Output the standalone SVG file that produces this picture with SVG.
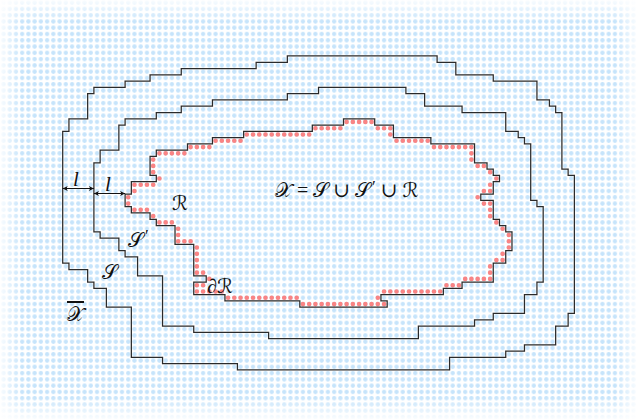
<svg xmlns="http://www.w3.org/2000/svg" width="637" height="419" viewBox="0 0 637 419">
<style>
.c{fill:none;stroke:#2a2a2a;stroke-width:1.25;stroke-linejoin:miter;vector-effect:non-scaling-stroke}
.m{font-family:"Liberation Serif","DejaVu Serif","DejaVu Sans",serif;font-style:italic;font-size:21px;fill:#111}
.s{font-family:"Liberation Serif","DejaVu Serif","DejaVu Sans",serif;font-style:normal;font-size:20px;fill:#111}
.p{font-family:"Liberation Serif","DejaVu Sans",serif;font-style:normal;font-size:17px}
.dim{stroke:#111;stroke-width:1;marker-start:url(#ah);marker-end:url(#ah)}
</style>
<defs>
<pattern id="dots" patternUnits="userSpaceOnUse" width="1" height="1">
<circle cx="0.5" cy="0.5" r="0.35" fill="#c6e4fb"/>
</pattern>
<linearGradient id="fl" x1="0" y1="0" x2="1" y2="0"><stop offset="0" stop-color="#fff" stop-opacity="0.9"/><stop offset="1" stop-color="#fff" stop-opacity="0"/></linearGradient>
<linearGradient id="fr" x1="1" y1="0" x2="0" y2="0"><stop offset="0" stop-color="#fff" stop-opacity="0.9"/><stop offset="1" stop-color="#fff" stop-opacity="0"/></linearGradient>
<linearGradient id="ft" x1="0" y1="0" x2="0" y2="1"><stop offset="0" stop-color="#fff" stop-opacity="0.9"/><stop offset="1" stop-color="#fff" stop-opacity="0"/></linearGradient>
<linearGradient id="fb" x1="0" y1="1" x2="0" y2="0"><stop offset="0" stop-color="#fff" stop-opacity="0.9"/><stop offset="1" stop-color="#fff" stop-opacity="0"/></linearGradient>
<marker id="ah" viewBox="0 0 10 10" refX="10" refY="5" markerWidth="6" markerHeight="5" markerUnits="userSpaceOnUse" orient="auto-start-reverse">
<path d="M0,0 L10,5 L0,10 L2.5,5 z" fill="#111"/>
</marker>
</defs>
<rect width="637" height="419" fill="#fff"/>
<g transform="translate(0.3,-0.52) scale(6.24,6.28)">
<rect id="grid" x="-1" y="0" width="104" height="69" fill="url(#dots)"/>
<g id="connectors">
<path id="contour-X" class="c" d="M10 21H11V19H14V15H15V14H20V13H24V12H29V11H41V10H46V9H70V10H73V12H79V13H86V16H88V17H89V18H90V27H91V28H92V50H91V52H89V55H84V56H81V57H72V59H38V58H26V57H21V49H17V46H15V45H14V43H11V42H10Z"/>
<path id="contour-S" class="c" d="M15 26H16V24H19V20H20V19H25V18H29V17H34V16H46V15H51V14H65V15H68V17H74V18H81V21H83V22H84V23H85V32H86V33H87V45H86V47H84V50H79V51H76V52H67V54H43V53H31V52H26V44H22V41H20V40H19V38H16V37H15Z"/>
<path id="red-dots" fill="none" stroke="#f98484" stroke-width="0.74" stroke-linecap="round" stroke-dasharray="0 1" d="M55.5 19.5H59.51M50.5 20.5H54.51M60.5 20.5H62.51M39.5 21.5H49.51M62.5 21.5h.01M34.5 22.5H38.51M63.5 22.5H68.51M30.5 23.5H33.51M69.5 23.5H75.51M25.5 24.5H29.51M75.5 24.5h.01M24.5 25.5h.01M75.5 25.5h.01M24.5 26.5h.01M76.5 26.5H77.51M24.5 27.5h.01M78.5 27.5h.01M25.5 28.5h.01M79.5 28.5h.01M21.5 29.5H24.51M78.5 29.5h.01M21.5 30.5h.01M77.5 30.5H78.51M20.5 31.5h.01M76.5 31.5h.01M20.5 32.5h.01M77.5 32.5H78.51M21.5 33.5H23.51M78.5 33.5h.01M24.5 34.5h.01M78.5 34.5h.01M25.5 35.5H27.51M79.5 35.5h.01M28.5 36.5h.01M80.5 36.5h.01M28.5 37.5h.01M81.5 37.5h.01M28.5 38.5H30.51M81.5 38.5h.01M31.5 39.5h.01M81.5 39.5h.01M31.5 40.5h.01M80.5 40.5h.01M31.5 41.5h.01M79.5 41.5H80.51M31.5 42.5h.01M78.5 42.5h.01M31.5 43.5H32.51M78.5 43.5h.01M33.5 44.5h.01M74.5 44.5H78.51M31.5 45.5H32.51M71.5 45.5H73.51M31.5 46.5H35.51M61.5 46.5H70.51M36.5 47.5H47.51M60.5 47.5h.01M48.5 48.5H61.51"/>
<path id="boundary-R" class="c" d="M20 33V31H21V29H25V28H24V25H25V24H30V23H34V22H39V21H50V20H55V19H60V20H63V22H69V23H76V26H78V27H79V28H80V29H79V31H77V32H79V35H80V36H81V37H82V40H81V42H79V45H74V46H71V47H61V48H62V49H48V48H36V47H31V45H33V44H31V39H28V36H25V35H24V34H21V33Z"/>
</g>
</g>
<g id="edge-fade">
<rect x="0" y="0" width="22" height="419" fill="url(#fl)"/>
<rect x="615" y="0" width="22" height="419" fill="url(#fr)"/>
<rect x="0" y="0" width="637" height="22" fill="url(#ft)"/>
<rect x="0" y="397" width="637" height="22" fill="url(#fb)"/>
</g>
<g id="dimensions">
<line class="dim" x1="62.7" y1="188.5" x2="93.9" y2="188.5"/>
<line class="dim" x1="93.9" y1="193.5" x2="125.1" y2="193.5"/>
<text class="m" x="73" y="186">l</text>
<text class="m" x="105" y="191">l</text>
</g>
<g id="labels">
<text id="label-X" class="s" x="275" y="197">𝒳 = 𝒮 ∪ 𝒮<tspan class="p" dx="2" dy="-5">′</tspan><tspan dy="5"> ∪ ℛ</tspan></text>
<text id="label-R" class="s" x="172" y="210">ℛ</text>
<text id="label-S1" class="s" x="128" y="247">𝒮<tspan class="p" dx="2" dy="-6">′</tspan></text>
<text id="label-S" class="s" x="102" y="279">𝒮</text>
<text id="label-Xbar" class="s" x="67" y="321" text-decoration="overline">𝒳</text>
<text id="label-dR" class="s" x="207" y="293">∂ℛ</text>
</g>
</svg>
